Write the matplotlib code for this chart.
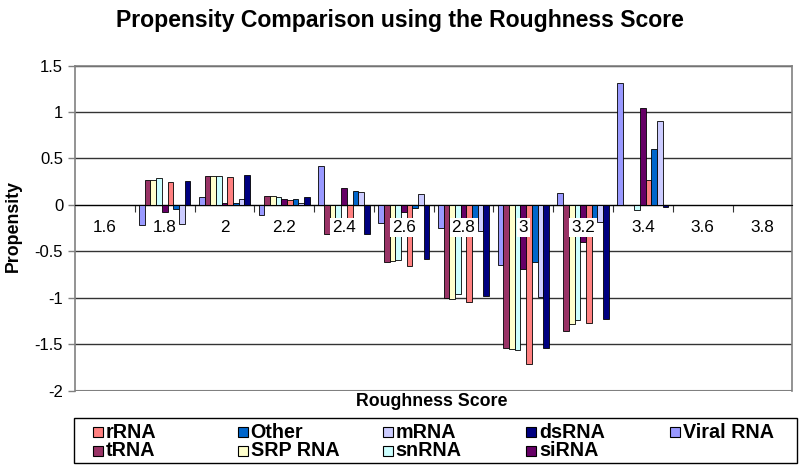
import matplotlib
matplotlib.use("Agg")
import matplotlib.pyplot as plt
from matplotlib.patches import Rectangle
import numpy as np

plt.rcParams['font.family'] = ['Liberation Sans', 'DejaVu Sans']

categories = ['1.6', '1.8', '2', '2.2', '2.4', '2.6', '2.8', '3', '3.2', '3.4', '3.6', '3.8']

series_names = ['Viral RNA', 'tRNA', 'SRP RNA', 'snRNA', 'siRNA', 'rRNA', 'Other', 'mRNA', 'dsRNA']
viral_rna = [0, -0.22, 0.08, -0.11, 0.42, -0.20, -0.25, -0.65, 0.125, 1.31, 0, 0]
trna      = [0, 0.27, 0.31, 0.10, -0.31, -0.61, -1.00, -1.54, -1.36, 0, 0, 0]
srp_rna   = [0, 0.27, 0.31, 0.10, -0.20, -0.60, -1.01, -1.55, -1.28, 0, 0, 0]
snrna     = [0, 0.29, 0.31, 0.09, -0.20, -0.59, -0.96, -1.56, -1.24, -0.05, 0, 0]
sirna     = [0, -0.08, 0.025, 0.06, 0.18, -0.08, -0.20, -0.69, -0.40, 1.04, 0, 0]
rrna      = [0, 0.25, 0.30, 0.05, -0.20, -0.66, -1.05, -1.71, -1.27, 0.27, 0, 0]
other     = [0, -0.04, 0.025, 0.06, 0.15, -0.035, -0.20, -0.62, -0.15, 0.60, 0, 0]
mrna      = [0, -0.21, 0.06, 0.02, 0.135, 0.12, -0.28, -0.99, -0.18, 0.90, 0, 0]
dsrna     = [0, 0.26, 0.32, 0.09, -0.31, -0.58, -0.98, -1.54, -1.23, -0.02, 0, 0]
series_values = [viral_rna, trna, srp_rna, snrna, sirna, rrna, other, mrna, dsrna]
colors = ['#9999FF', '#993366', '#FFFFCC', '#CCFFFF', '#660066',
          '#FF8080', '#0066CC', '#CCCCFF', '#000080']

legend_order = ['rRNA', 'Other', 'mRNA', 'dsRNA', 'Viral RNA',
                'tRNA', 'SRP RNA', 'snRNA', 'siRNA']

fig = plt.figure(figsize=(8, 4.71), dpi=100)
W, H = 800, 471
L, R, T, B = 75, 792.3, 65.5, 390.7
ax = fig.add_axes([L / W, 1 - B / H, (R - L) / W, (B - T) / H])

n = len(series_names)
x = np.arange(len(categories))
bw = 1 / (n + 1.5)
for i, (vals, c) in enumerate(zip(series_values, colors)):
    ax.bar(x + (i - (n - 1) / 2) * bw, vals, width=bw, color=c,
           edgecolor='black', linewidth=0.6, zorder=2)

ax.set_xlim(-0.5, len(categories) - 0.5)
ax.set_ylim(-2, 1.5)
ax.set_yticks(np.arange(-2, 1.51, 0.5))
ax.set_yticklabels(['-2', '-1.5', '-1', '-0.5', '0', '0.5', '1', '1.5'])
ax.tick_params(axis='y', direction='out', length=5, width=1, color='#808080',
               labelsize=12, pad=3.5)
ax.yaxis.grid(True, color='#333333', linewidth=1.0)
ax.set_axisbelow(True)

# category axis crossing at zero
ax.spines['bottom'].set_position(('data', 0))
ax.spines['bottom'].set_color('black')
ax.spines['bottom'].set_zorder(3)
ax.set_xticks(np.arange(0.5, len(categories) - 0.5, 1))
ax.tick_params(axis='x', direction='out', length=5, width=0.8, color='#333333',
               labelbottom=False)
for s in ['left', 'right', 'top']:
    ax.spines[s].set_color('#808080')
    ax.spines[s].set_linewidth(1.2)
ax.axhline(-2, color='#808080', linewidth=1.5, zorder=1)

for xi, lab in zip(x, categories):
    ax.annotate(lab, xy=(xi, 0), xytext=(0, -22.5), textcoords='offset pixels',
                ha='center', va='center', fontsize=12.3, zorder=5,
                bbox=dict(boxstyle='square,pad=0.12', facecolor='white', edgecolor='none'))

fig.text(0.5, 1 - 20 / H, 'Propensity Comparison using the Roughness Score',
         ha='center', va='center', fontsize=16.6, fontweight='bold')
fig.text(432 / W, 1 - 402 / H, 'Roughness Score', ha='center', va='center',
         fontsize=12.8, fontweight='bold')
fig.text(13 / W, 1 - 226 / H, 'Propensity', ha='center', va='center',
         rotation=90, fontsize=12.8, fontweight='bold')

# legend
lx0, ly0, lx1, ly1 = 73, 417, 797, 463
lax = fig.add_axes([lx0 / W, 1 - ly1 / H, (lx1 - lx0) / W, (ly1 - ly0) / H])
lax.set_xlim(0, lx1 - lx0)
lax.set_ylim(ly1 - ly0, 0)
lax.axis('off')
lax.add_patch(Rectangle((0.5, 0.5), lx1 - lx0 - 1, ly1 - ly0 - 1, fill=False,
                        edgecolor='black', linewidth=1.0, clip_on=False))
col_x = [93, 237.5, 382.6, 526, 670]
row_y = [431.5, 450.5]
for k, name in enumerate(legend_order):
    r, cidx = divmod(k, 5)
    sx = col_x[cidx] - lx0
    sy = row_y[r] - ly0
    c = colors[series_names.index(name)]
    lax.add_patch(Rectangle((sx, sy - 5), 10, 10, facecolor=c, edgecolor='black',
                            linewidth=0.8))
    lax.text(sx + 13, sy + 0.5, name, ha='left', va='center', fontsize=14.2,
             fontweight='bold')

fig.savefig('out.png', dpi=100)
